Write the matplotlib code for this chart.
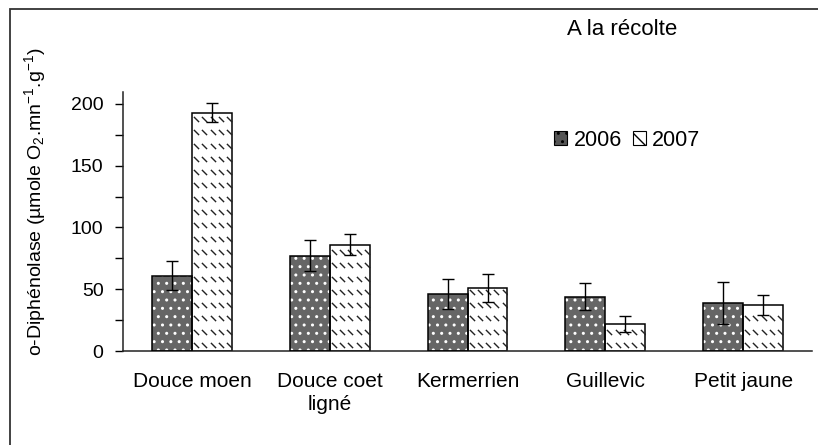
import numpy as np
import matplotlib
matplotlib.use("Agg")
import matplotlib.pyplot as plt
from matplotlib.patches import Patch, Rectangle
from matplotlib.path import Path

plt.rcParams['font.family'] = ['Liberation Sans', 'DejaVu Sans']
plt.rcParams['mathtext.fontset'] = 'custom'
plt.rcParams['mathtext.rm'] = 'Liberation Sans'
plt.rcParams['mathtext.it'] = 'Liberation Sans'

categories = ["Douce moen", "Douce coet\nligné", "Kermerrien", "Guillevic", "Petit jaune"]
years = ["2006", "2007"]
values_2006 = [61, 77, 46, 44, 38.5]
errors_2006 = [12, 12.5, 12, 11, 17]
values_2007 = [193, 86, 51, 22, 37]
errors_2007 = [8, 8.5, 11.5, 6.5, 8]
title_text = "A la récolte"
ylabel_text = "o-Diphénolase (µmole O$_{2}$.mn$^{-1}$.g$^{-1}$)"
yticks_major = [0, 50, 100, 150, 200]

DPI = 100
fig = plt.figure(figsize=(8.18, 4.45), dpi=DPI)
ax = fig.add_axes([0.1504, 0.2112, 0.8423, 0.583])

x = np.arange(len(categories))
w = 0.29

# 2006: grey stipple (grey fill with white dot hatch, black outline drawn on top)
b06 = ax.bar(x - w / 2, values_2006, w, color="#666666", edgecolor="white",
             hatch="..", linewidth=0, zorder=2)
ax.bar(x - w / 2, values_2006, w, fill=False, edgecolor="black", linewidth=1.1, zorder=3)

# 2007: white with rows of short diagonal dashes
b07 = ax.bar(x + w / 2, values_2007, w, color="white", edgecolor="black",
             linewidth=1.1, zorder=2)

ax.set_xlim(-0.5, len(categories) - 0.5)
ax.set_ylim(0, 210)

# dash marker for the 2007 fill texture
dash = Path([(-1, 1), (1, -1)], [Path.MOVETO, Path.LINETO])
px_per_x = ax.get_position().width * fig.get_figwidth() * DPI / (len(categories))
px_per_y = ax.get_position().height * fig.get_figheight() * DPI / 210.0
for bar in b07:
    x0, x1 = bar.get_x(), bar.get_x() + bar.get_width()
    h = bar.get_height()
    xs = np.arange(x0 + 4 / px_per_x, x1, 8.3 / px_per_x)
    ys = np.arange(6 / px_per_y, h, 13.3 / px_per_y)
    gx, gy = np.meshgrid(xs, ys)
    sc = ax.scatter(gx.ravel(), gy.ravel(), marker=dash, s=14, linewidths=1.0,
                    color="#222222", zorder=2.5)
    sc.set_clip_path(bar)

ax.errorbar(x - w / 2, values_2006, yerr=errors_2006, fmt="none", ecolor="black",
            elinewidth=1.0, capsize=4, capthick=1.0, zorder=4)
ax.errorbar(x + w / 2, values_2007, yerr=errors_2007, fmt="none", ecolor="black",
            elinewidth=1.0, capsize=4, capthick=1.0, zorder=4)

for s in ("top", "right"):
    ax.spines[s].set_visible(False)
for s in ("left", "bottom"):
    ax.spines[s].set_linewidth(1.1)
    ax.spines[s].set_color("#222222")

ax.set_yticks(yticks_major)
ax.set_yticks(np.arange(0, 201, 25), minor=True)
ax.tick_params(axis="y", which="both", direction="out", length=6, width=1.0,
               labelsize=14, pad=8)
ax.tick_params(axis="y", which="minor", labelleft=False)

ax.set_xticks(x)
ax.set_xticklabels(categories, fontsize=15, linespacing=1.3)
ax.tick_params(axis="x", which="major", length=0, pad=15)

fig.text(0.043, 0.546, ylabel_text, rotation=90, ha="center", va="center", fontsize=14)
fig.text(0.7604, 0.933, title_text, ha="center", va="center", fontsize=16)

handles = [Patch(facecolor="#555555", edgecolor="black", hatch="..", linewidth=0.8),
           Patch(facecolor="white", edgecolor="black", hatch="\\\\", linewidth=0.8)]
ax.legend(handles, years, loc="center left", bbox_to_anchor=(0.6135, 0.812),
          ncol=2, frameon=False, fontsize=15.5, handlelength=0.6, handleheight=0.6,
          handletextpad=0.3, columnspacing=0.5, borderaxespad=0)

# outer frame around the chart area
fig.patches.append(Rectangle((10 / 818, -0.1), 1.0, (445 - 9) / 445 + 0.1,
                             transform=fig.transFigure, fill=False,
                             edgecolor="#333333", linewidth=1.3))

fig.savefig("out.png", dpi=DPI)
